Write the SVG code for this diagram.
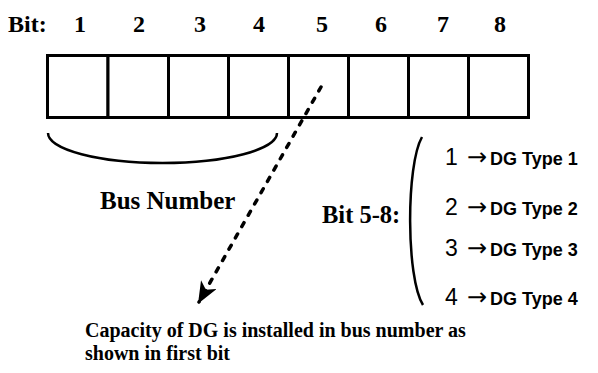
<svg xmlns="http://www.w3.org/2000/svg" width="598" height="373" viewBox="0 0 598 373">
<style>
.serif{font-family:"Liberation Serif","Times New Roman",serif;font-weight:bold;fill:#000}
.sans{font-family:"Liberation Sans",Arial,sans-serif;fill:#000}
.num{font-size:23px}
.arr{font-family:"DejaVu Sans",sans-serif;font-size:24px}
.dg{font-weight:bold;font-size:18px}
.box{fill:#fff;stroke:#000;stroke-width:3}
.curve{fill:none;stroke:#000;stroke-width:2.5}
</style>
<defs>
<marker id="ah" viewBox="0 0 22 18" refX="20" refY="9" markerWidth="22" markerHeight="18" markerUnits="userSpaceOnUse" orient="auto">
<path d="M0,0 L22,9 L0,18 L6,9 z" fill="#000"/>
</marker>
</defs>
<rect width="598" height="373" fill="#fff"/>
<g id="bit-labels" class="serif" font-size="24">
<text x="8" y="32">Bit:</text>
<text x="80" y="32" text-anchor="middle">1</text>
<text x="139" y="32" text-anchor="middle">2</text>
<text x="200" y="32" text-anchor="middle">3</text>
<text x="259" y="32" text-anchor="middle">4</text>
<text x="322" y="32" text-anchor="middle">5</text>
<text x="381" y="32" text-anchor="middle">6</text>
<text x="443" y="32" text-anchor="middle">7</text>
<text x="500" y="32" text-anchor="middle">8</text>
</g>
<g id="bits">
<rect class="box" x="47.5" y="55.5" width="60.5" height="62"/>
<rect class="box" x="108" y="55.5" width="60.5" height="62"/>
<rect class="box" x="168.5" y="55.5" width="60" height="62"/>
<rect class="box" x="228.5" y="55.5" width="60" height="62"/>
<rect class="box" x="288.5" y="55.5" width="60" height="62"/>
<rect class="box" x="348.5" y="55.5" width="60" height="62"/>
<rect class="box" x="408.5" y="55.5" width="60" height="62"/>
<rect class="box" x="468.5" y="55.5" width="60" height="62"/>
</g>
<g id="bus-brace">
<path class="curve" d="M48,133 A114.5 30 0 0 0 277,133"/>
<text class="serif" x="100" y="209" font-size="25">Bus Number</text>
</g>
<g id="types">
<text class="serif" x="322" y="223" font-size="24.5">Bit 5-8:</text>
<path class="curve" stroke-width="2" d="M422,137 C406,165 406,278 423,305"/>
<g id="type1"><text class="sans num" x="445" y="165">1</text><text class="sans arr" x="467" y="165">→</text><text class="sans dg" x="490" y="165">DG Type 1</text></g>
<g id="type2"><text class="sans num" x="445" y="215">2</text><text class="sans arr" x="467" y="215">→</text><text class="sans dg" x="490" y="215">DG Type 2</text></g>
<g id="type3"><text class="sans num" x="445" y="256">3</text><text class="sans arr" x="467" y="256">→</text><text class="sans dg" x="490" y="256">DG Type 3</text></g>
<g id="type4"><text class="sans num" x="445" y="305">4</text><text class="sans arr" x="467" y="305">→</text><text class="sans dg" x="490" y="305">DG Type 4</text></g>
</g>
<g id="connectors">
<path d="M321,87 L199,302" fill="none" stroke="#000" stroke-width="3.5" stroke-linecap="round" stroke-dasharray="4.5 8.5" marker-end="url(#ah)"/>
</g>
<g id="caption" class="serif" font-size="20">
<text x="85" y="337">Capacity of DG is installed in bus number as</text>
<text x="85" y="360">shown in first bit</text>
</g>
</svg>
